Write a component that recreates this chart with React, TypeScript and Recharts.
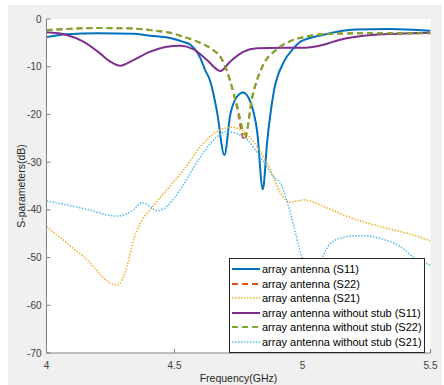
import React from 'react';
import { LineChart, Line, XAxis, YAxis, CartesianGrid, Legend } from 'recharts';

const xTicks = [4, 4.5, 5, 5.5];
const yTicks = [0, -10, -20, -30, -40, -50, -60, -70];

const seriesNames = [
  'array antenna (S11)',
  'array antenna (S22)',
  'array antenna (S21)',
  'array antenna without stub (S11)',
  'array antenna without stub (S22)',
  'array antenna without stub (S21)',
];

// array antenna (S11)
const freqS11 = [4.0, 4.08, 4.2, 4.34, 4.405, 4.483, 4.534, 4.562, 4.601, 4.62, 4.64, 4.666, 4.695, 4.718, 4.744, 4.768, 4.796, 4.823, 4.845, 4.862, 4.888, 4.927, 4.966, 4.992, 5.078, 5.207, 5.339, 5.5];
const s11 = [-3.8, -3.2, -3.0, -3.1, -3.5, -4.0, -4.8, -5.4, -8.2, -10.7, -13.1, -19.4, -28.5, -20, -16.3, -15.4, -17.3, -23.6, -35.7, -25.7, -15.2, -9, -6.1, -4.75, -3.35, -2.2, -2.1, -2.45];

// array antenna (S22)
const freqS22 = [4.0, 4.209, 4.339, 4.405, 4.483, 4.534, 4.601, 4.64, 4.692, 4.718, 4.744, 4.773, 4.804, 4.843, 4.896, 4.948, 5.013, 5.078, 5.207, 5.5];
const s22 = [-2.3, -1.9, -2.0, -2.3, -2.9, -3.7, -5.0, -6.1, -9.2, -13.1, -18.5, -25.4, -16.3, -10, -6.5, -4.75, -3.7, -3.2, -3.0, -3.0];

// array antenna (S21)
const freqS21 = [4.0, 4.144, 4.275, 4.314, 4.34, 4.366, 4.405, 4.47, 4.535, 4.601, 4.666, 4.725, 4.77, 4.823, 4.875, 4.914, 4.953, 5.005, 5.083, 5.175, 5.304, 5.434, 5.5];
const s21 = [-43.5, -49.8, -55.8, -51.9, -46.3, -42.8, -40, -35.8, -31.7, -26.8, -23.6, -22.7, -23.6, -26.8, -31.7, -36.5, -38.4, -37.9, -39.3, -41.4, -43.5, -45.3, -46.5];

// array antenna without stub (S11)
const freqS11ws = [4.0, 4.079, 4.144, 4.209, 4.248, 4.288, 4.34, 4.405, 4.47, 4.522, 4.575, 4.627, 4.679, 4.718, 4.77, 4.823, 4.927, 5.01, 5.078, 5.143, 5.273, 5.5];
const s11ws = [-2.8, -3.35, -4.75, -7.2, -8.9, -9.8, -8.6, -6.85, -5.8, -5.6, -6.35, -8.6, -10.9, -8.9, -6.85, -6.15, -6.0, -6.0, -5.45, -4.4, -3.35, -2.9];

// array antenna without stub (S22)
const freqS22ws = [4.0, 4.209, 4.339, 4.405, 4.483, 4.534, 4.601, 4.64, 4.692, 4.718, 4.744, 4.777, 4.804, 4.843, 4.896, 4.948, 5.013, 5.078, 5.207, 5.5];
const s22ws = [-2.3, -1.9, -2.0, -2.3, -2.9, -3.7, -5.0, -6.1, -9.2, -13.1, -18, -24.3, -16.3, -10, -6.5, -4.75, -3.7, -3.2, -3.0, -3.0];

// array antenna without stub (S21)
const freqS21ws = [4.0, 4.144, 4.275, 4.34, 4.373, 4.405, 4.431, 4.47, 4.522, 4.601, 4.666, 4.699, 4.77, 4.835, 4.888, 4.914, 4.953, 4.986, 4.999, 5.04, 5.077, 5.11, 5.175, 5.227, 5.304, 5.382, 5.436, 5.5];
const s21ws = [-38.1, -39.7, -41.3, -40.0, -38.5, -39.3, -40.2, -39.3, -35.8, -28.9, -24.7, -23.6, -24.7, -28.9, -33.1, -34.5, -40.7, -47.7, -50.1, -56, -50.1, -47, -45.6, -45.4, -46, -47.7, -50, -51.6];

const toPoints = (f: number[], v: number[]) => f.map((x, i) => ({ f: x, v: v[i] }));

const series = [
  { name: seriesNames[0], color: '#0072BD', dash: undefined as string | undefined, width: 2, data: toPoints(freqS11, s11) },
  { name: seriesNames[1], color: '#D95319', dash: '6 4', width: 2, data: toPoints(freqS22, s22) },
  { name: seriesNames[2], color: '#EDB120', dash: '1.5 1.5', width: 1.5, data: toPoints(freqS21, s21) },
  { name: seriesNames[3], color: '#7E2F8E', dash: undefined as string | undefined, width: 2, data: toPoints(freqS11ws, s11ws) },
  { name: seriesNames[4], color: '#77AC30', dash: '6 4', width: 2, data: toPoints(freqS22ws, s22ws) },
  { name: seriesNames[5], color: '#4DBEEE', dash: '1.5 1.5', width: 1.5, data: toPoints(freqS21ws, s21ws) },
];

const FONT = '"Liberation Sans", Arial, Helvetica, sans-serif';

const LegendBox = () => (
  <div
    style={{
      background: '#ffffff',
      border: '1px solid #262626',
      padding: '3px 2px 3px 2px',
      boxSizing: 'border-box',
      fontFamily: FONT,
      fontSize: 11,
      color: '#000',
    }}
  >
    {series.map((s) => (
      <div key={s.name} style={{ display: 'flex', alignItems: 'center', height: 14.5, whiteSpace: 'nowrap' }}>
        <svg width={28} height={10} style={{ display: 'block', marginRight: 2, flexShrink: 0 }}>
          <line x1={0} y1={5} x2={28} y2={5} stroke={s.color} strokeWidth={s.width} strokeDasharray={s.dash} />
        </svg>
        <span>{s.name}</span>
      </div>
    ))}
  </div>
);

const YLabel = (props: any) => {
  const { viewBox } = props;
  const cx = viewBox.x + 14.5;
  const cy = viewBox.y + viewBox.height / 2;
  return (
    <text
      x={cx}
      y={cy}
      transform={`rotate(-90, ${cx}, ${cy})`}
      textAnchor="middle"
      dominantBaseline="central"
      fill="#262626"
      fontSize={10.5}
      fontFamily={FONT}
    >
      S-parameters(dB)
    </text>
  );
};

export default function App() {
  return (
    <div style={{ position: 'absolute', left: 0, top: 0, width: 444, height: 385 }}>
      <div style={{ position: 'absolute', left: 8, top: 5, width: 434, height: 380, background: '#f0f0f0' }} />
      <div style={{ position: 'absolute', left: 0, top: 0 }}>
        <LineChart width={444} height={385} margin={{ top: 19, right: 13.5, bottom: 0, left: 6.5 }}>
          <CartesianGrid horizontal={false} vertical={false} fill="#ffffff" fillOpacity={1} />
          <XAxis
            dataKey="f"
            type="number"
            domain={[4, 5.5]}
            ticks={xTicks}
            allowDataOverflow
            height={32}
            tickSize={-4}
            tickMargin={13}
            stroke="#808080"
            tick={{ fill: '#404040', fontSize: 10, fontFamily: FONT }}
            tickFormatter={(v: number) => String(v)}
            label={{ value: 'Frequency(GHz)', position: 'insideBottom', offset: 3, fill: '#262626', fontSize: 10.5, fontFamily: FONT }}
          />
          <XAxis
            xAxisId="top"
            orientation="top"
            type="number"
            domain={[4, 5.5]}
            ticks={xTicks}
            height={0}
            tick={false}
            tickSize={-4}
            stroke="#808080"
          />
          <YAxis
            type="number"
            domain={[-70, 0]}
            ticks={yTicks}
            allowDataOverflow
            width={40}
            tickSize={-4}
            tickMargin={9}
            stroke="#808080"
            tick={{ fill: '#404040', fontSize: 10, fontFamily: FONT }}
            label={<YLabel />}
          />
          <YAxis
            yAxisId="right"
            orientation="right"
            type="number"
            domain={[-70, 0]}
            ticks={yTicks}
            width={0}
            tick={false}
            tickSize={-4}
            stroke="#808080"
          />
          {series.map((s) => (
            <Line
              key={s.name}
              data={s.data}
              dataKey="v"
              name={s.name}
              type="monotone"
              stroke={s.color}
              strokeWidth={s.width}
              strokeDasharray={s.dash}
              dot={false}
              activeDot={false}
              isAnimationActive={false}
            />
          ))}
          <Legend
            layout="vertical"
            align="center"
            verticalAlign="middle"
            wrapperStyle={{ left: 229, top: 258, width: 196 }}
            content={<LegendBox />}
          />
        </LineChart>
      </div>
    </div>
  );
}
